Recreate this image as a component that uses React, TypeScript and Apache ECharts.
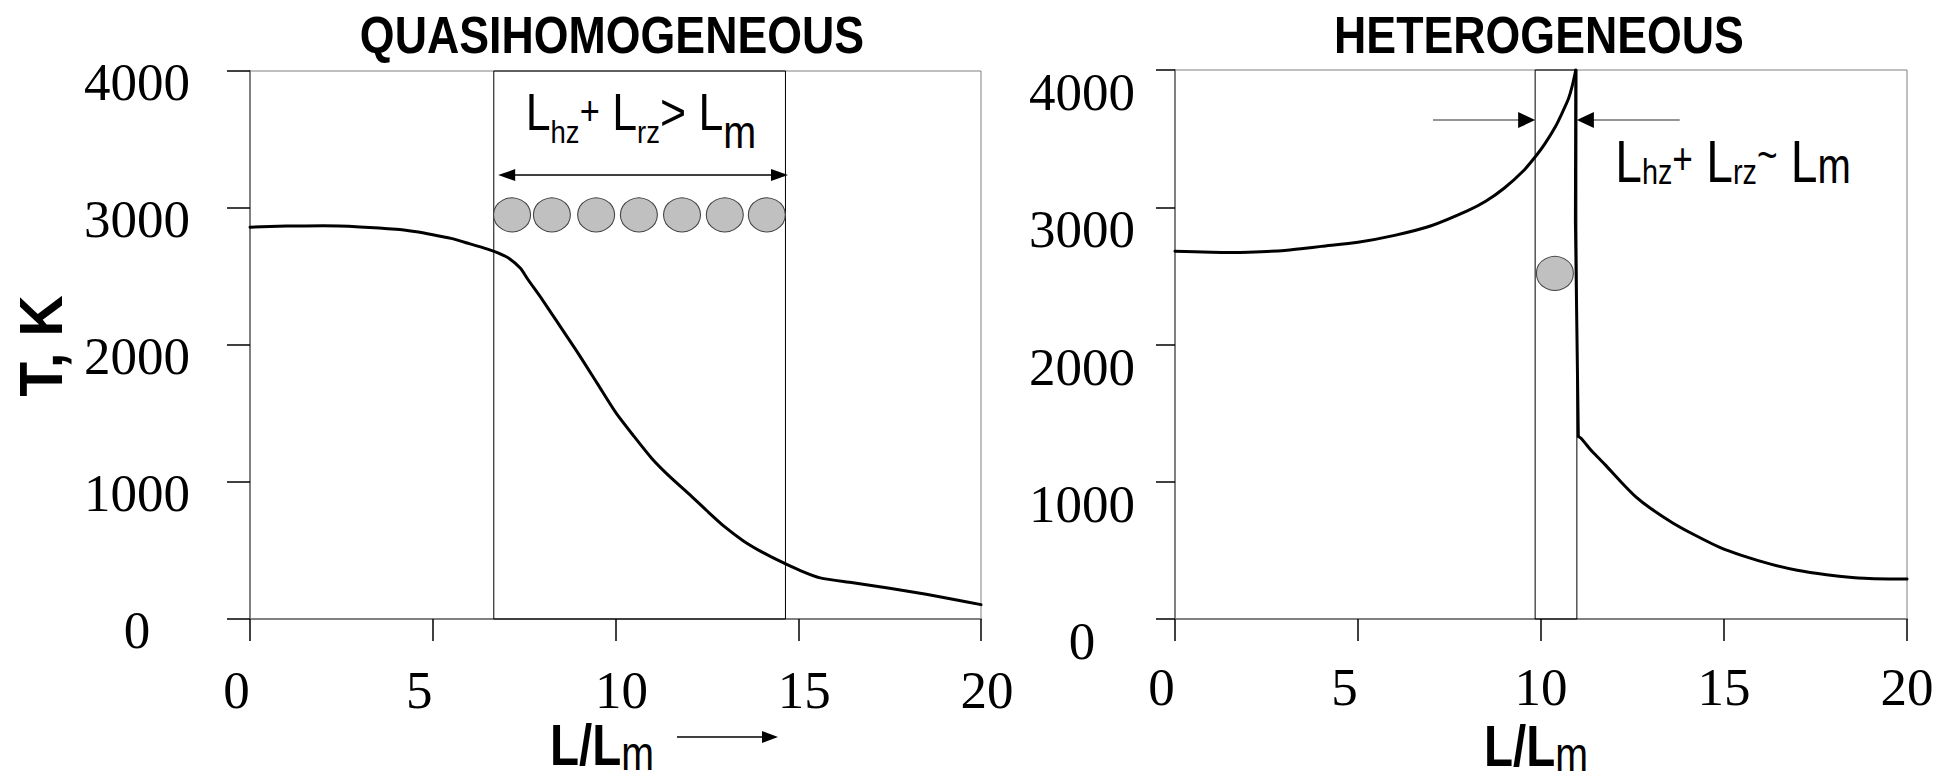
import React, { useEffect, useRef } from "react";
import * as echarts from "echarts";

// Temperature profiles along the bed, T [K] vs L/Lm
const quasiL = [0, 1, 2, 3, 4, 4.5, 5, 5.5, 6, 6.5, 6.8, 7.1, 7.4, 7.6, 8, 8.5, 9, 9.5, 10, 10.5, 11, 11.5, 12, 12.5, 13, 13.5, 14, 14.5, 15, 15.6, 16.5, 17.5, 18.5, 19.3, 20];
const quasiT = [2860, 2868, 2870, 2862, 2845, 2828, 2805, 2778, 2740, 2700, 2670, 2630, 2560, 2480, 2330, 2130, 1930, 1720, 1510, 1335, 1170, 1035, 915, 790, 670, 570, 490, 422, 360, 300, 265, 225, 180, 140, 105];

// Heterogeneous profile: heating branch, ignition drop, cooling branch
const heatL = [0, 1, 1.5, 2, 3, 3.5, 4, 5, 6, 7, 8, 8.5, 9, 9.5, 9.85, 10.1, 10.4, 10.6, 10.75, 10.85, 10.95];
const heatT = [2680, 2672, 2670, 2672, 2685, 2700, 2715, 2745, 2795, 2865, 2975, 3045, 3140, 3260, 3370, 3460, 3590, 3700, 3790, 3880, 4000];
const dropL = [10.95, 10.94, 11.02];
const dropT = [4000, 2900, 1330];
const coolL = [11.02, 11.1, 11.4, 11.75, 12.2, 12.6, 13, 13.6, 14.2, 14.9, 15.5, 16.3, 17, 17.8, 18.5, 19.1, 20];
const coolT = [1330, 1315, 1220, 1125, 995, 888, 805, 700, 612, 520, 462, 398, 355, 322, 302, 293, 292];

// Reaction-zone extents and particle positions (L/Lm, T)
const quasiZone = [6.67, 14.65];
const quasiParticleL = [7.17, 8.26, 9.47, 10.64, 11.82, 12.99, 14.14];
const quasiParticleT = 2950;
const quasiSpan = [6.79, 14.72];
const quasiSpanT = 3240;

const heteroZone = [9.84, 10.98];
const heteroParticle = [10.38, 2518];
const heteroArrowLeft = [7.05, 9.84];
const heteroArrowRight = [13.79, 10.98];
const heteroArrowT = 3635;

const titles = ["QUASIHOMOGENEOUS", "HETEROGENEOUS"];

const SERIF = "'Liberation Serif', 'Times New Roman', serif";
const SANS = "'Liberation Sans', Arial, sans-serif";

const zip = (xs: number[], ys: number[]) => xs.map((x, i) => [x, ys[i]]);

const serifLabel = { fontFamily: SERIF, fontSize: 53, color: "#000" };

function xAxisFor(gridIndex: number, twoDigitShift: number, margin: number) {
  return {
    type: "value",
    gridIndex,
    min: 0,
    max: 20,
    interval: 5,
    axisLine: { show: true, onZero: false, lineStyle: { color: "#808080", width: 2 } },
    axisTick: { show: true, length: 22, lineStyle: { color: "#000", width: 1.5 } },
    splitLine: { show: false },
    axisLabel: {
      margin,
      verticalAlign: "middle",
      formatter: (v: number) => (v < 10 ? `{one|${v}}` : `{two|${v}}`),
      rich: {
        one: { ...serifLabel, padding: [0, 27, 0, 0] },
        two: { ...serifLabel, padding: [0, 0, 0, twoDigitShift] },
      },
    },
  };
}

function yAxisFor(gridIndex: number, margin: number, tickLen: number, padTop: number) {
  return {
    type: "value",
    gridIndex,
    min: 0,
    max: 4000,
    interval: 1000,
    axisLine: { show: true, lineStyle: { color: "#808080", width: 2 } },
    axisTick: { show: true, length: tickLen, lineStyle: { color: "#000", width: 1.5 } },
    splitLine: { show: false },
    axisLabel: {
      align: "center",
      verticalAlign: "middle",
      margin,
      formatter: (v: number) => `{v|${String(v)}}`,
      rich: { v: { ...serifLabel, padding: [padTop, 0, 0, 0] } },
    },
  };
}

const zoneArea = (zone: number[]) => ({
  silent: true,
  itemStyle: { color: "rgba(0,0,0,0)", borderColor: "#000", borderWidth: 1 },
  label: { show: false },
  data: [[{ coord: [zone[0], 0] }, { coord: [zone[1], 4000] }]],
});

const curve = (grid: number, data: number[][], smooth: number | boolean, extra: object = {}) => ({
  type: "line",
  xAxisIndex: grid,
  yAxisIndex: grid,
  data,
  symbol: "none",
  smooth,
  lineStyle: { color: "#000", width: 3, cap: "round", join: "round" },
  z: 5,
  silent: true,
  ...extra,
});

const particleStyle = {
  type: "scatter",
  symbol: "circle",
  symbolSize: [37, 34],
  itemStyle: { color: "#c0c0c0", borderColor: "#404040", borderWidth: 1, opacity: 1 },
  silent: true,
  z: 4,
};

function head(tip: number[], dir: number, len: number, half: number) {
  return {
    type: "polygon",
    shape: { points: [tip, [tip[0] - dir * len, tip[1] - half], [tip[0] - dir * len, tip[1] + half]] },
    style: { fill: "#000" },
    z: 10,
  };
}

export default function App() {
  const ref = useRef<HTMLDivElement>(null);

  useEffect(() => {
    if (!ref.current) return;
    const chart = echarts.init(ref.current, undefined, { renderer: "svg" });

    chart.setOption({
      animation: false,
      backgroundColor: "#fff",
      grid: [
        { left: 250, top: 71, width: 731, height: 548, show: true, borderColor: "#808080", borderWidth: 1, backgroundColor: "transparent" },
        { left: 1175, top: 70, width: 732, height: 549, show: true, borderColor: "#808080", borderWidth: 1, backgroundColor: "transparent" },
      ],
      xAxis: [xAxisFor(0, 12, 71), xAxisFor(1, 0, 68)],
      yAxis: [yAxisFor(0, 113, 23, 22), yAxisFor(1, 93, 19, 44)],
      series: [
        curve(0, zip(quasiL, quasiT), 0.25, { markArea: zoneArea(quasiZone) }),
        {
          ...particleStyle,
          xAxisIndex: 0,
          yAxisIndex: 0,
          data: quasiParticleL.map((l) => [l, quasiParticleT]),
        },
        curve(1, zip(heatL, heatT), 0.25, { markArea: zoneArea(heteroZone) }),
        curve(1, zip(dropL, dropT), false),
        curve(1, zip(coolL, coolT), 0.25),
        {
          ...particleStyle,
          xAxisIndex: 1,
          yAxisIndex: 1,
          data: [heteroParticle],
        },
      ],
    });

    const px = (g: number, x: number, y: number) =>
      chart.convertToPixel({ gridIndex: g }, [x, y]) as number[];

    const spanA = px(0, quasiSpan[0], quasiSpanT);
    const spanB = px(0, quasiSpan[1], quasiSpanT);
    const la0 = px(1, heteroArrowLeft[0], heteroArrowT);
    const la1 = px(1, heteroArrowLeft[1], heteroArrowT);
    const ra0 = px(1, heteroArrowRight[0], heteroArrowT);
    const ra1 = px(1, heteroArrowRight[1], heteroArrowT);

    const titleStyle = (text: string) => ({
      text,
      fontFamily: SANS,
      fontWeight: "bold",
      fontSize: 52,
      fill: "#000",
      align: "center",
      verticalAlign: "middle",
    });

    const axisName = (x: number, y: number) => ({
      type: "text",
      x,
      y,
      scaleX: 0.82,
      style: {
        text: "{b|L/L}{m|m}",
        align: "center",
        verticalAlign: "bottom",
        rich: {
          b: { fontFamily: SANS, fontWeight: "bold", fontSize: 58, fill: "#000", padding: [0, 0, 3, 0], verticalAlign: "bottom" },
          m: { fontFamily: SANS, fontSize: 48, fill: "#000", verticalAlign: "bottom" },
        },
      },
      z: 10,
    });

    chart.setOption({
      graphic: [
        { type: "text", x: 612, y: 35, scaleX: 0.86, style: titleStyle(titles[0]) },
        { type: "text", x: 1539, y: 35, scaleX: 0.86, style: titleStyle(titles[1]) },
        {
          type: "text",
          x: 41,
          y: 346,
          rotation: Math.PI / 2,
          scaleX: 0.92,
          style: { text: "T, K", fontFamily: SANS, fontWeight: "bold", fontSize: 62, fill: "#000", align: "center", verticalAlign: "middle" },
        },
        axisName(602, 777),
        axisName(1536, 778),
        { type: "line", shape: { x1: 677, y1: 737, x2: 764, y2: 737 }, style: { stroke: "#000", lineWidth: 1.5 } },
        head([778, 737], 1, 16, 6),
        // annotation inside the quasihomogeneous zone
        {
          type: "text",
          x: 641,
          y: 155,
          scaleX: 0.86,
          style: {
            text: "{a|L}{s|hz}{p|+}{a| L}{s|rz}{a|>}{a| L}{m|m}",
            align: "center",
            verticalAlign: "bottom",
            rich: {
              a: { fontFamily: SANS, fontSize: 52, fill: "#000", padding: [0, 0, 17, 0], verticalAlign: "bottom" },
              s: { fontFamily: SANS, fontSize: 32, fill: "#000", padding: [0, 0, 7, 0], verticalAlign: "bottom" },
              p: { fontFamily: SANS, fontSize: 40, fill: "#000", padding: [0, 0, 24, 0], verticalAlign: "bottom" },
              m: { fontFamily: SANS, fontSize: 46, fill: "#000", verticalAlign: "bottom" },
            },
          },
          z: 10,
        },
        { type: "line", shape: { x1: spanA[0] + 8, y1: spanA[1], x2: spanB[0] - 8, y2: spanB[1] }, style: { stroke: "#000", lineWidth: 1.5 } },
        head(spanA, -1, 17, 6),
        head(spanB, 1, 17, 6),
        // annotation beside the heterogeneous zone
        {
          type: "text",
          x: 1733,
          y: 192,
          scaleX: 0.8,
          style: {
            text: "{a|L}{s|hz}{p|+}{a| L}{s|rz}{t|~}{a| L}{m|m}",
            align: "center",
            verticalAlign: "bottom",
            rich: {
              a: { fontFamily: SANS, fontSize: 60, fill: "#000", verticalAlign: "bottom" },
              s: { fontFamily: SANS, fontSize: 36, fill: "#000", padding: [0, 0, 3, 0], verticalAlign: "bottom" },
              p: { fontFamily: SANS, fontSize: 44, fill: "#000", padding: [0, 0, 11, 0], verticalAlign: "bottom" },
              t: { fontFamily: SANS, fontSize: 44, fill: "#000", padding: [0, 0, 15, 0], verticalAlign: "bottom" },
              m: { fontFamily: SANS, fontSize: 50, fill: "#000", padding: [0, 0, 1, 0], verticalAlign: "bottom" },
            },
          },
          z: 10,
        },
        { type: "line", shape: { x1: la0[0], y1: la0[1], x2: la1[0] - 10, y2: la1[1] }, style: { stroke: "#707070", lineWidth: 1.5 } },
        head(la1, 1, 17, 8),
        { type: "line", shape: { x1: ra0[0], y1: ra0[1], x2: ra1[0] + 10, y2: ra1[1] }, style: { stroke: "#707070", lineWidth: 1.5 } },
        head(ra1, -1, 17, 8),
      ],
    });

    return () => chart.dispose();
  }, []);

  return (
    <div
      ref={ref}
      style={{ position: "absolute", left: 0, top: 0, width: 1958, height: 780, background: "#fff" }}
    />
  );
}
